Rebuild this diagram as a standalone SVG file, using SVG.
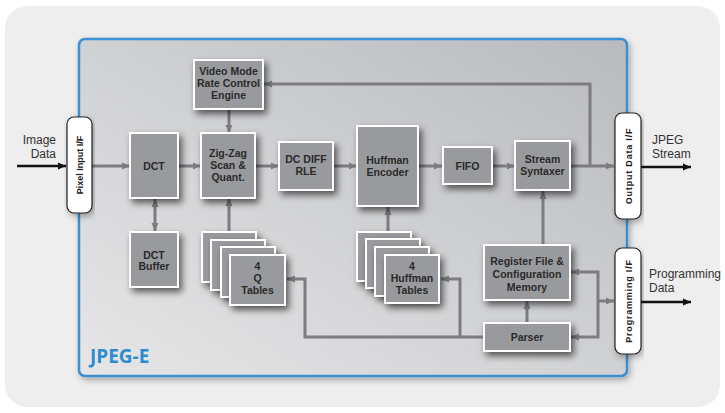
<svg xmlns="http://www.w3.org/2000/svg" width="725" height="413" viewBox="0 0 725 413">
<defs>
  <linearGradient id="frameGrad" x1="1" y1="0" x2="0" y2="1">
    <stop offset="0" stop-color="#b9babd"/>
    <stop offset="0.55" stop-color="#d2d3d5"/>
    <stop offset="1" stop-color="#e6e6e7"/>
  </linearGradient>
  <filter id="shadow" x="-30%" y="-30%" width="170%" height="170%">
    <feDropShadow dx="3" dy="4" stdDeviation="3.5" flood-color="#000" flood-opacity="0.6"/>
  </filter>
  <filter id="shadowSoft" x="-10%" y="-10%" width="120%" height="120%">
    <feDropShadow dx="2" dy="3" stdDeviation="3" flood-color="#000" flood-opacity="0.3"/>
  </filter>
  <marker id="ag" markerUnits="userSpaceOnUse" markerWidth="9" markerHeight="8" refX="8" refY="4" orient="auto">
    <path d="M0,0.5 L8,4 L0,7.5 Z" fill="#7c7d80"/>
  </marker>
  <marker id="agStart" markerUnits="userSpaceOnUse" markerWidth="9" markerHeight="8" refX="1" refY="4" orient="auto">
    <path d="M9,0.5 L1,4 L9,7.5 Z" fill="#7c7d80"/>
  </marker>
  <marker id="ab" markerUnits="userSpaceOnUse" markerWidth="9" markerHeight="8" refX="8" refY="4" orient="auto">
    <path d="M0,0.5 L8,4 L0,7.5 Z" fill="#111"/>
  </marker>
</defs>
<style>
  .blk { fill: #999a9d; stroke: #ffffff; stroke-width: 2; filter: url(#shadow); }
  .if { fill: #ffffff; stroke: #222; stroke-width: 1.2; filter: url(#shadowSoft); }
  .t { font-family: "Liberation Sans", Arial, sans-serif; font-weight: bold; font-size: 10.5px; fill: #2a2a2a; text-anchor: middle; }
  .ift { font-family: "Liberation Sans", Arial, sans-serif; font-weight: bold; font-size: 9px; fill: #222; text-anchor: middle; }
  .lbl { font-family: "Liberation Sans", Arial, sans-serif; font-size: 12px; fill: #333; }
  .c { fill: none; stroke: #7c7d80; stroke-width: 3; }
  .ext { fill: none; stroke: #111; stroke-width: 2.5; }
</style>

<rect x="5" y="6" width="715" height="401" rx="22" fill="#eeeeee"/>

<g id="frame">
  <rect x="79" y="39" width="548" height="337" rx="6" fill="url(#frameGrad)" stroke="#3a8fd2" stroke-width="2.5" filter="url(#shadowSoft)"/>
  <text x="90" y="363" font-family="'Open Sans', 'Liberation Sans', sans-serif" font-weight="bold" font-size="19" fill="#2f8bd0">JPEG-E</text>
</g>

<g id="connectors">
  <line class="ext" x1="17" y1="166" x2="66" y2="166" marker-end="url(#ab)"/>
  <line class="ext" x1="641" y1="167" x2="691" y2="167" marker-end="url(#ab)"/>
  <line class="ext" x1="641" y1="302" x2="691" y2="302" marker-end="url(#ab)"/>

  <line class="c" x1="92" y1="166" x2="130" y2="166" marker-end="url(#ag)"/>
  <line class="c" x1="178" y1="166" x2="201" y2="166" marker-end="url(#ag)"/>
  <line class="c" x1="255" y1="166" x2="279" y2="166" marker-end="url(#ag)"/>
  <line class="c" x1="333" y1="166" x2="357" y2="166" marker-end="url(#ag)"/>
  <line class="c" x1="418" y1="166" x2="442" y2="166" marker-end="url(#ag)"/>
  <line class="c" x1="491" y1="166" x2="515" y2="166" marker-end="url(#ag)"/>
  <line class="c" x1="570" y1="166" x2="614" y2="166" marker-end="url(#ag)"/>
  <polyline class="c" points="590,166 590,84 264,84" marker-end="url(#ag)"/>
  <line class="c" x1="229" y1="109" x2="229" y2="133" marker-end="url(#ag)"/>
  <line class="c" x1="155" y1="199" x2="155" y2="231" marker-start="url(#agStart)" marker-end="url(#ag)"/>
  <line class="c" x1="229" y1="232" x2="229" y2="198" marker-end="url(#ag)"/>
  <line class="c" x1="388" y1="232" x2="388" y2="207" marker-end="url(#ag)"/>
  <line class="c" x1="543" y1="245" x2="543" y2="191" marker-end="url(#ag)"/>
  <line class="c" x1="527" y1="323" x2="527" y2="301" marker-end="url(#ag)"/>
  <polyline class="c" points="484,337 305,337 305,279 287,279" marker-end="url(#ag)"/>
  <polyline class="c" points="460,337 460,279 441,279" marker-end="url(#ag)"/>
  <polyline class="c" points="598,301 598,272 571,272" marker-end="url(#ag)"/>
  <polyline class="c" points="598,301 598,337 571,337" marker-end="url(#ag)"/>
  <line class="c" x1="598" y1="301" x2="614" y2="301" marker-end="url(#ag)"/>
</g>

<g id="pixel-if">
  <rect class="if" x="67" y="117" width="25" height="96" rx="7"/>
  <text class="ift" transform="translate(82.5,165) rotate(-90)">Pixel Input I/F</text>
</g>
<g id="output-if">
  <rect class="if" x="615" y="113" width="26" height="106" rx="7"/>
  <text class="ift" style="letter-spacing:0.8px" transform="translate(631.5,166) rotate(-90)">Output Data I/F</text>
</g>
<g id="prog-if">
  <rect class="if" x="615" y="248" width="26" height="106" rx="7"/>
  <text class="ift" style="letter-spacing:0.8px" transform="translate(631.5,301) rotate(-90)">Programming I/F</text>
</g>

<g id="video-mode">
  <rect class="blk" x="194" y="60" width="69" height="49"/>
  <text class="t" x="228.5" y="75">Video Mode</text>
  <text class="t" x="228.5" y="87">Rate Control</text>
  <text class="t" x="228.5" y="98.5">Engine</text>
</g>
<g id="dct">
  <rect class="blk" x="130" y="133" width="48" height="65"/>
  <text class="t" x="154" y="170">DCT</text>
</g>
<g id="dct-buffer">
  <rect class="blk" x="130" y="232" width="48" height="55"/>
  <text class="t" x="154" y="259">DCT</text>
  <text class="t" x="154" y="269.5">Buffer</text>
</g>
<g id="zigzag">
  <rect class="blk" x="201" y="133" width="54" height="65"/>
  <text class="t" x="228" y="157">Zig-Zag</text>
  <text class="t" x="228" y="169">Scan &amp;</text>
  <text class="t" x="228" y="181">Quant.</text>
</g>
<g id="dc-diff">
  <rect class="blk" x="279" y="142" width="54" height="48"/>
  <text class="t" x="306" y="163">DC DIFF</text>
  <text class="t" x="306" y="175">RLE</text>
</g>
<g id="huffman-encoder">
  <rect class="blk" x="357" y="126" width="61" height="80"/>
  <text class="t" x="387.5" y="164">Huffman</text>
  <text class="t" x="387.5" y="176">Encoder</text>
</g>
<g id="fifo">
  <rect class="blk" x="443" y="147" width="49" height="37"/>
  <text class="t" x="467.5" y="170">FIFO</text>
</g>
<g id="stream-syntaxer">
  <rect class="blk" x="515" y="141" width="55" height="49"/>
  <text class="t" x="542.5" y="163">Stream</text>
  <text class="t" x="542.5" y="175">Syntaxer</text>
</g>
<g id="q-tables">
  <rect class="blk" x="202" y="232" width="54" height="50"/>
  <rect class="blk" x="211" y="240" width="54" height="50"/>
  <rect class="blk" x="221" y="247" width="54" height="50"/>
  <rect class="blk" x="230" y="255" width="55" height="50"/>
  <text class="t" x="257.5" y="270">4</text>
  <text class="t" x="257.5" y="282">Q</text>
  <text class="t" x="257.5" y="294">Tables</text>
</g>
<g id="huffman-tables">
  <rect class="blk" x="357" y="232" width="54" height="49"/>
  <rect class="blk" x="366" y="239" width="54" height="49"/>
  <rect class="blk" x="375" y="247" width="54" height="49"/>
  <rect class="blk" x="385" y="255" width="54" height="48"/>
  <text class="t" x="412" y="270">4</text>
  <text class="t" x="412" y="282">Huffman</text>
  <text class="t" x="412" y="294">Tables</text>
</g>
<g id="register-file">
  <rect class="blk" x="484" y="245" width="86" height="55"/>
  <text class="t" x="527" y="265">Register File &amp;</text>
  <text class="t" x="527" y="278">Configuration</text>
  <text class="t" x="527" y="291">Memory</text>
</g>
<g id="parser">
  <rect class="blk" x="484" y="323" width="86" height="28"/>
  <text class="t" x="527" y="341">Parser</text>
</g>

<g id="labels">
  <text class="lbl" x="56" y="144" text-anchor="end">Image</text>
  <text class="lbl" x="56" y="157.5" text-anchor="end">Data</text>
  <text class="lbl" x="652" y="144">JPEG</text>
  <text class="lbl" x="652" y="157.5">Stream</text>
  <text class="lbl" x="649" y="278">Programming</text>
  <text class="lbl" x="649" y="291.5">Data</text>
</g>
</svg>
